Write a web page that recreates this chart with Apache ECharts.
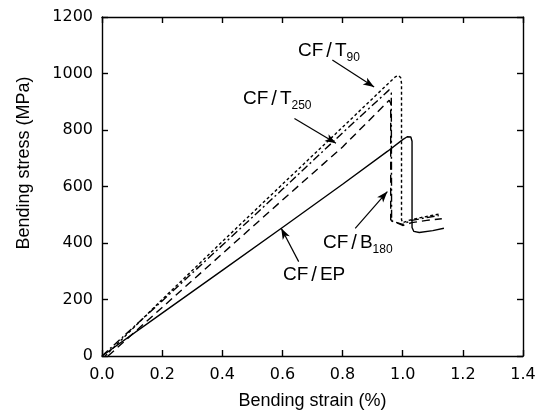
<!DOCTYPE html>
<html><head><meta charset="utf-8">
<script src="https://cdn.jsdelivr.net/npm/echarts@6/dist/echarts.min.js"></script>
<style>html,body{margin:0;padding:0;background:#fff}#c{width:542px;height:420px}</style>
</head><body><div id="c"></div>
<script>
// strain (%) , stress (MPa)
var cfT90 = [[0.01,0],[0.2,200],[0.4,405],[0.6,608],[0.8,810],[0.975,988],[0.985,993],[0.993,986],[0.996,965],[0.996,482],[1.0,472],[1.02,480],[1.06,490],[1.12,502]];
var cfT250 = [[0.0,0],[0.2,195],[0.4,392],[0.6,590],[0.8,790],[0.955,942],[0.962,932],[0.963,478],[1.0,466],[1.03,480],[1.08,490],[1.12,497]];
var cfB180 = [[0.02,0],[0.2,172],[0.4,362],[0.6,552],[0.8,740],[0.955,905],[0.96,895],[0.96,482],[1.0,462],[1.03,472],[1.08,480],[1.13,486]];
var cfEP = [[0.0,0],[0.2,152],[0.4,303],[0.6,455],[0.8,608],[0.95,725],[1.0,766],[1.015,776],[1.027,775],[1.031,760],[1.031,455],[1.037,441],[1.055,437],[1.1,444],[1.137,452]];
var xTicks = [0,0.2,0.4,0.6,0.8,1.0,1.2,1.4];
var yTicks = [0,200,400,600,800,1000,1200];
// annotation arrows: [from, to]
var arrowT90 = [[0.766,1048],[0.905,952]];
var arrowT250 = [[0.640,841],[0.778,753]];
var arrowB180 = [[0.842,452],[0.949,582]];
var arrowEP = [[0.654,334],[0.596,452]];

var FONT = "'Liberation Sans', Arial, sans-serif";
var DFONT = "'DejaVu Sans', sans-serif";
var chart = echarts.init(document.getElementById('c'), null, {renderer:'canvas'});

function lineSeries(name, data, type) {
  return {
    name: name, type: 'line', data: data, symbol: 'none', animation: false,
    lineStyle: {color:'#000', width:1.4, type: type},
    xAxisIndex:0, yAxisIndex:0
  };
}
function arrow(a) {
  return [{coord:a[0], symbol:'none'},{coord:a[1], symbol:'arrow'}];
}
var series = [
  lineSeries('CF/T90', cfT90, [3,2.5]),
  lineSeries('CF/T250', cfT250, [8,3,2,3]),
  lineSeries('CF/B180', cfB180, [8,5]),
  lineSeries('CF/EP', cfEP, 'solid')
];
series.push({
  type:'line', data:[], xAxisIndex:0, yAxisIndex:0, animation:false,
  markLine: {
    silent:true, animation:false, symbolSize:[6,11],
    label:{show:false},
    lineStyle:{color:'#000', width:1.2, type:'solid'},
    data:[arrow(arrowT90), arrow(arrowT250), arrow(arrowB180), arrow(arrowEP)]
  }
});

var axisCommon = {
  type:'value', animation:false,
  axisLine:{show:true, onZero:false, lineStyle:{color:'#000', width:1.4}},
  axisTick:{show:true, inside:true, length:6, lineStyle:{color:'#000', width:1.4}},
  splitLine:{show:false}
};
var rich = {
  m:{fontFamily:FONT, fontSize:19, color:'#000'},
  sl:{fontFamily:FONT, fontSize:20, color:'#000', padding:[0,3,0,3]},
  s:{fontFamily:FONT, fontSize:12, color:'#000', padding:[14,0,0,0]}
};
var option = {
  backgroundColor:'#fff',
  animation:false,
  grid:{left:102, top:17, right:19, bottom:64, containLabel:false},
  xAxis:[
    Object.assign({}, axisCommon, {position:'bottom', min:0, max:1.4, interval:0.2,
      axisLabel:{show:true, color:'#000', fontFamily:DFONT, fontSize:16, margin:11,
        formatter:function(v){return v.toFixed(1);}},
      name:'Bending strain (%)', nameLocation:'middle', nameGap:36,
      nameTextStyle:{color:'#000', fontFamily:FONT, fontSize:18}}),
    Object.assign({}, axisCommon, {position:'top', min:0, max:1.4, interval:0.2, axisLabel:{show:false}})
  ],
  yAxis:[
    Object.assign({}, axisCommon, {position:'left', min:0, max:1200, interval:200,
      axisLabel:{show:true, color:'#000', fontFamily:DFONT, fontSize:16, margin:9,
        formatter:function(v){return String(v);}}}),
    Object.assign({}, axisCommon, {position:'right', min:0, max:1200, interval:200, axisLabel:{show:false}})
  ],
  graphic:[
    {type:'text', x:24, y:163, rotation:Math.PI/2,
      style:{text:'Bending stress (MPa)', font:"18px 'Liberation Sans', Arial, sans-serif", fill:'#000', align:'center', verticalAlign:'middle'}},
    {type:'text', x:298, y:38, style:{text:'{m|CF}{sl|/}{m|T}{s|90}', rich:rich, fill:'#000'}},
    {type:'text', x:243, y:86, style:{text:'{m|CF}{sl|/}{m|T}{s|250}', rich:rich, fill:'#000'}},
    {type:'text', x:323, y:230, style:{text:'{m|CF}{sl|/}{m|B}{s|180}', rich:rich, fill:'#000'}},
    {type:'text', x:283, y:265, style:{text:'{m|CF}{sl|/}{m|EP}', rich:rich, fill:'#000'}}
  ],
  series: series
};
chart.setOption(option);
</script></body></html>
